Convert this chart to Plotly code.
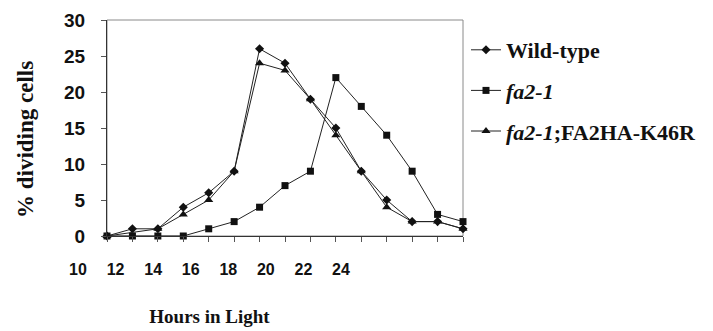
import plotly.graph_objects as go

hours = list(range(10, 25))
wild_type = [0, 1, 1, 4, 6, 9, 26, 24, 19, 15, 9, 5, 2, 2, 1]
fa2_1 = [0, 0, 0, 0, 1, 2, 4, 7, 9, 22, 18, 14, 9, 3, 2]
k46r = [0, None, 1, 3, 5, 9, 24, 23, 19, 14, 9, 4, 2, 2, 1]
series_names = ["<b>Wild-type</b>", "<b><i>fa2-1</i></b>", "<b><i>fa2-1</i>;FA2HA-K46R</b>"]
x_tick_labels = [10, 12, 14, 16, 18, 20, 22, 24]
y_ticks = [0, 5, 10, 15, 20, 25, 30]

W, H = 713, 331
ml, mr, mt, mb = 4, 4, 4, 4
pw, ph = W - ml - mr, H - mt - mb
OFF = 7  # page offset of the figure in the screenshot
SERIF = "Liberation Serif"
SANS = "Liberation Sans"

def fx(px):
    return (px - OFF - ml) / pw

def fy(py):
    return (H - mb - (py - OFF)) / ph

fig = go.Figure()
symbols = ["diamond", "square", "triangle-up"]
sizes = [7, 7, 8]
for i, (name, vals) in enumerate(zip(series_names, [wild_type, fa2_1, k46r])):
    fig.add_trace(go.Scatter(
        x=hours, y=vals, name=name, mode="lines+markers",
        connectgaps=True, legendgroup=f"g{i}",
        line=dict(color="#222222", width=1),
        marker=dict(symbol=symbols[i], size=sizes[i], color="#111111"),
        cliponaxis=False,
    ))

# invisible trace to activate the label axis
fig.add_trace(go.Scatter(x=[10, 24], y=[0, 0], xaxis="x2", yaxis="y",
                         mode="markers", marker=dict(opacity=0), showlegend=False,
                         hoverinfo="skip"))

fig.add_shape(type="rect", xref="x domain", yref="y domain", x0=0, x1=1, y0=0, y1=1,
              line=dict(color="#8a8a8a", width=1), layer="below")

fig.add_annotation(text="<b>% dividing cells</b>", textangle=-90,
                   xref="paper", yref="paper", x=fx(24), y=fy(139),
                   xanchor="center", yanchor="middle", showarrow=False,
                   font=dict(family=SERIF, size=23, color="#111111"))

fig.update_layout(
    width=W, height=H,
    margin=dict(l=ml, r=mr, t=mt, b=mb, autoexpand=False),
    plot_bgcolor="rgba(0,0,0,0)", paper_bgcolor="white",
    font=dict(family=SERIF, color="#111111"),
    showlegend=True,
    legend=dict(
        x=fx(465), y=fy(28), xanchor="left", yanchor="top",
        font=dict(family=SERIF, size=22, color="#111111"),
        itemwidth=30, tracegroupgap=9, bgcolor="rgba(0,0,0,0)",
    ),
    xaxis=dict(
        domain=[fx(106), fx(462)], range=[10, 24], anchor="y", automargin=False,
        showline=True, linecolor="#333333", linewidth=1,
        ticks="outside", ticklen=5, tickcolor="#555555", dtick=1,
        showticklabels=False, showgrid=False, zeroline=False,
    ),
    xaxis2=dict(
        domain=[fx(77), fx(340)], range=[10, 24], anchor="free", position=fy(257),
        automargin=False,
        tickvals=x_tick_labels, ticktext=[str(v) for v in x_tick_labels],
        showline=False, ticks="", showgrid=False, zeroline=False,
        tickfont=dict(family=SANS, size=16, color="#111111", weight="bold"),
        title=dict(text="<b>Hours in Light</b>", standoff=32,
                   font=dict(family=SERIF, size=19, color="#111111")),
    ),
    yaxis=dict(
        domain=[fy(235), fy(19)], range=[0, 30], anchor="x", automargin=False,
        tickvals=y_ticks,
        showline=True, linecolor="#333333", linewidth=1,
        ticks="outside", ticklen=5, tickcolor="#555555",
        ticklabelstandoff=12,
        showgrid=False, zeroline=False,
        tickfont=dict(family=SANS, size=19, color="#111111", weight="bold"),
    ),
)

fig.write_html("out.html")
